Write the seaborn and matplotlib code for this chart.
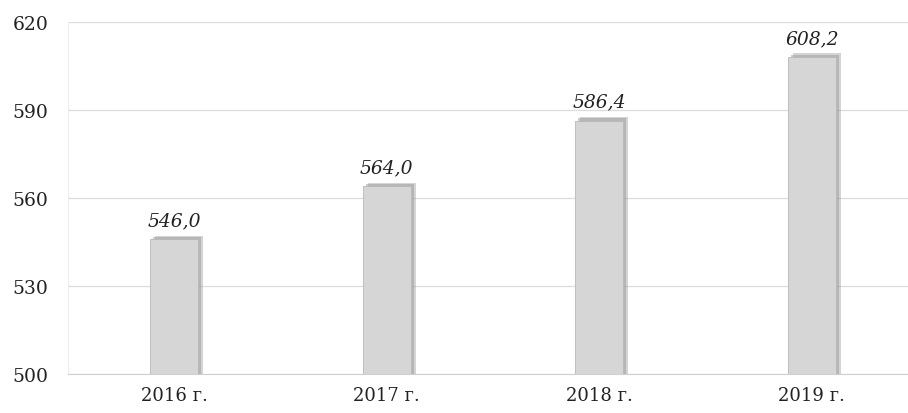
import pandas as pd
import matplotlib.pyplot as plt
import matplotlib.patheffects as pe
import seaborn as sns

# Данные с графика
years = ["2016 г.", "2017 г.", "2018 г.", "2019 г."]
values = [546.0, 564.0, 586.4, 608.2]
value_labels = ["546,0", "564,0", "586,4", "608,2"]
y_ticks = [500, 530, 560, 590, 620]

df = pd.DataFrame({"year": years, "value": values})

sns.set_style("white")
plt.rcParams['font.family'] = ['DejaVu Serif']

fig = plt.figure(figsize=(9.08, 4.14), dpi=100)
ax = fig.add_axes([68 / 908, 39 / 414, 840 / 908, 352 / 414])

sns.barplot(data=df, x="year", y="value", color="#d6d6d6", width=0.226,
            saturation=1, edgecolor="#b8b8b8", linewidth=0.6, ax=ax, zorder=3)

# schaduw rond de balken
for bar in ax.patches:
    bar.set_path_effects([pe.SimplePatchShadow(offset=(3.5, 2.5), shadow_rgbFace="#a0a0a0", alpha=0.45),
                          pe.SimplePatchShadow(offset=(2, 1.5), shadow_rgbFace="#9a9a9a", alpha=0.5),
                          pe.Normal()])

for bar, lab in zip(ax.patches, value_labels):
    ax.annotate(lab, (bar.get_x() + bar.get_width() / 2, bar.get_height()),
                xytext=(0, 7), textcoords="offset points", ha="center", va="bottom",
                fontsize=13.5, style="italic", color="#222222")

ax.set_ylim(500, 620)
ax.set_yticks(y_ticks)
ax.set_xlim(-0.5, 3.453)
ax.grid(axis="y", color="#dcdcdc", linewidth=0.9, zorder=0)
ax.set_axisbelow(True)

for side in ["top", "right"]:
    ax.spines[side].set_visible(False)
ax.spines["left"].set_color("#ededed")
ax.spines["bottom"].set_color("#d0d0d0")

ax.tick_params(axis="y", length=0, pad=14, labelsize=13.5, labelcolor="#222222")
ax.tick_params(axis="x", length=0, pad=9, labelsize=13, labelcolor="#222222")
ax.set_xlabel("")
ax.set_ylabel("")

plt.savefig("out.png", dpi=100)
